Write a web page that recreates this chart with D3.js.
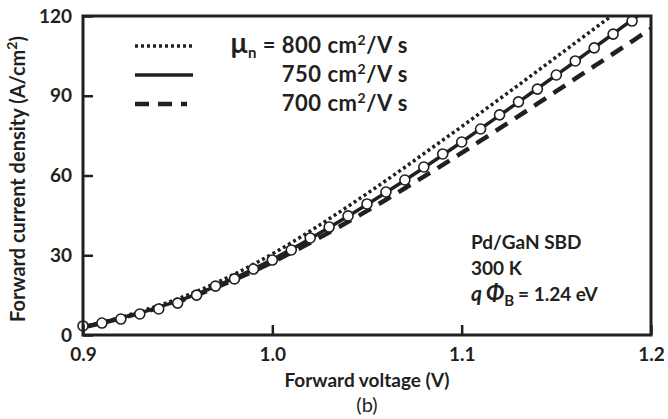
<!DOCTYPE html>
<html>
<head>
<meta charset="utf-8">
<script src="https://cdn.jsdelivr.net/npm/d3@7"></script>
<style>
  html, body { margin: 0; padding: 0; background: #fff; }
  svg text { font-family: Lato, "Open Sans", sans-serif; fill: #231f20; }
</style>
</head>
<body>
<svg id="chart" width="668" height="419"></svg>
<script>
// Forward J–V of a Pd/GaN Schottky barrier diode: measurement vs. model for three mobilities
const voltage = [0.90,0.91,0.92,0.93,0.94,0.95,0.96,0.97,0.98,0.99,1.00,1.01,1.02,1.03,1.04,1.05,
                 1.06,1.07,1.08,1.09,1.10,1.11,1.12,1.13,1.14,1.15,1.16,1.17,1.18,1.19,1.20];
const measured = [3.4,4.5,6.0,7.9,9.8,12.0,15.0,18.4,21.1,24.8,28.2,32.0,36.5,40.6,44.8,49.3,
                  53.8,58.3,63.2,68.1,72.6,77.5,82.8,87.7,92.5,97.8,103.1,108.0,113.2,118.1];
const model800 = [3.1,4.8,6.7,8.8,11.1,13.6,16.4,19.5,22.9,26.6,30.5,34.7,39.1,43.7,48.4,53.2,
                  58.1,63.1,68.2,73.3,78.4,83.6,88.8,94.0,99.3,104.6,109.9,115.2,120.5,125.8,131.1];
const model750 = [3.0,4.6,6.4,8.3,10.4,12.8,15.4,18.3,21.4,24.8,28.4,32.2,36.2,40.4,44.7,49.1,
                  53.6,58.2,62.9,67.7,72.6,77.6,82.6,87.6,92.7,97.8,102.9,108.1,113.3,118.5,123.7];
const model700 = [3.0,4.5,6.3,8.2,10.2,12.5,15.0,17.8,20.8,24.0,27.4,31.0,34.7,38.6,42.6,46.7,
                  50.9,55.2,59.6,64.0,68.5,73.1,77.7,82.3,87.0,91.7,96.4,101.1,105.8,110.5,115.2];
const xTicks = [0.9, 1.0, 1.1, 1.2];
const yTicks = [0, 30, 60, 90, 120];
const mobilities = ["800", "750", "700"];

const ink = "#231f20";
const svg = d3.select("#chart");
const plotLeft = 83, plotRight = 651, plotTop = 16, plotBottom = 335;

const x = d3.scaleLinear().domain([0.9, 1.2]).range([plotLeft, plotRight]);
const y = d3.scaleLinear().domain([0, 120]).range([plotBottom, plotTop]);

svg.append("defs").append("clipPath").attr("id", "plot")
  .append("rect").attr("x", plotLeft).attr("y", plotTop)
  .attr("width", plotRight - plotLeft).attr("height", plotBottom - plotTop);

// line styles shared by the curves and the legend samples
const styles = [
  { width: 3.5, dash: "3,3" },     // 800
  { width: 3.5, dash: null },      // 750
  { width: 4.5, dash: "14,9" }     // 700
];

// model curves
const line = d3.line().x(d => x(d[0])).y(d => y(d[1])).curve(d3.curveMonotoneX);
const curves = [
  { values: model700, style: styles[2] },
  { values: model750, style: styles[1] },
  { values: model800, style: styles[0] }
];
const curveG = svg.append("g").attr("clip-path", "url(#plot)");
curves.forEach(c => {
  curveG.append("path")
    .datum(voltage.map((v, i) => [v, c.values[i]]))
    .attr("d", line)
    .attr("fill", "none")
    .attr("stroke", ink)
    .attr("stroke-width", c.style.width)
    .attr("stroke-dasharray", c.style.dash);
});

// measured points
svg.append("g").selectAll("circle")
  .data(measured)
  .join("circle")
  .attr("cx", (d, i) => x(voltage[i]))
  .attr("cy", d => y(d))
  .attr("r", 5)
  .attr("fill", "#fff")
  .attr("stroke", ink)
  .attr("stroke-width", 1.6);

// axes with inward ticks
const xAxis = svg.append("g").attr("transform", `translate(0,${plotBottom})`)
  .call(d3.axisBottom(x).tickValues(xTicks).tickFormat(d3.format(".1f")).tickSizeInner(-10).tickSizeOuter(0).tickPadding(21));
const yAxis = svg.append("g").attr("transform", `translate(${plotLeft},0)`)
  .call(d3.axisLeft(y).tickValues(yTicks).tickFormat(d3.format("d")).tickSizeInner(-10).tickSizeOuter(0).tickPadding(11));
[xAxis, yAxis].forEach(g => {
  g.select(".domain").remove();
  g.selectAll(".tick line").attr("stroke", ink).attr("stroke-width", 2.5);
  g.selectAll(".tick text").attr("font-size", 19).attr("font-weight", 700).attr("fill", ink);
});
xAxis.selectAll(".tick text").attr("dy", "0.25em");

// frame
svg.append("rect")
  .attr("x", plotLeft).attr("y", plotTop)
  .attr("width", plotRight - plotLeft).attr("height", plotBottom - plotTop)
  .attr("fill", "none").attr("stroke", ink).attr("stroke-width", 3);

// axis titles
svg.append("text")
  .attr("x", 367).attr("y", 387)
  .attr("text-anchor", "middle").attr("font-size", 19).attr("font-weight", 700)
  .text("Forward voltage (V)");
svg.append("text")
  .attr("x", 367).attr("y", 412)
  .attr("text-anchor", "middle").attr("font-size", 20)
  .text("(b)");
const yTitle = svg.append("text")
  .attr("transform", `translate(25,179) rotate(-90)`)
  .attr("text-anchor", "middle").attr("font-size", 20).attr("font-weight", 700);
yTitle.append("tspan").text("Forward current density (A/cm");
yTitle.append("tspan").attr("font-size", 14).attr("dy", -8).text("2");
yTitle.append("tspan").attr("dy", 8).text(")");

// legend
const legendY = [46, 75, 104];
legendY.forEach((ly, i) => {
  svg.append("line")
    .attr("x1", 135).attr("x2", i === 2 ? 187 : 193)
    .attr("y1", ly).attr("y2", ly)
    .attr("stroke", ink).attr("stroke-width", styles[i].width)
    .attr("stroke-dasharray", styles[i].dash);
  const t = svg.append("text")
    .attr("x", 408).attr("y", ly + 7)
    .attr("text-anchor", "end").attr("font-size", 22).attr("font-weight", 700)
    .attr("letter-spacing", 0.5);
  if (i === 0) {
    t.append("tspan").attr("font-size", 28).text("μ");
    t.append("tspan").attr("font-size", 15).attr("dy", 5).text("n");
    t.append("tspan").attr("dy", -5).text(" = ");
  }
  t.append("tspan").text(mobilities[i] + " cm");
  t.append("tspan").attr("font-size", 14).attr("dy", -8).text("2");
  t.append("tspan").attr("dy", 8).text("/V s");
});

// device annotation
const note = svg.append("g").attr("font-size", 19).attr("font-weight", 700);
note.append("text").attr("x", 471).attr("y", 249).text("Pd/GaN SBD");
note.append("text").attr("x", 471).attr("y", 275).text("300 K");
const phi = note.append("text").attr("x", 471).attr("y", 301);
phi.append("tspan").attr("font-style", "italic").attr("font-size", 21).text("q");
phi.append("tspan").attr("font-style", "italic").attr("font-size", 23).attr("dx", 4).text("Φ");
phi.append("tspan").attr("font-size", 15).attr("dy", 5).text("B");
phi.append("tspan").attr("dy", -5).attr("dx", 4).text("= 1.24 eV");
</script>
</body>
</html>
